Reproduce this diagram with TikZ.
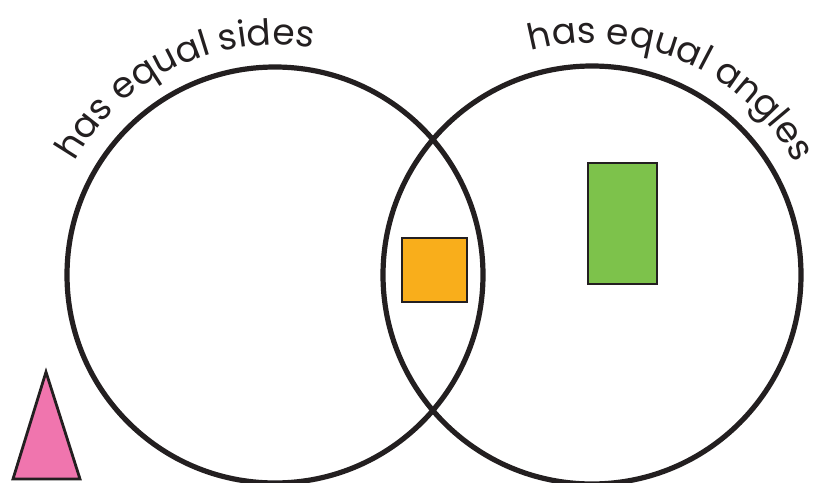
\documentclass[tikz,border=0pt]{standalone}
\usepackage{fontspec}
\setmainfont{Poppins}
\usetikzlibrary{decorations.text,calc}
\definecolor{ink}{HTML}{231F20}
\definecolor{orangef}{HTML}{F9AE1B}
\definecolor{greenf}{HTML}{7DC24B}
\definecolor{pinkf}{HTML}{F075AE}
\tikzset{
  ring/.style={draw=ink, line width=5.2pt},
  shapebox/.style={draw=ink, line width=2.8pt},
  arclabel/.style={decorate, decoration={text along path, text align=center, text color=ink}}
}
\begin{document}
\begin{tikzpicture}[x=1pt,y=1pt]
\useasboundingbox (0,0) rectangle (827,482);
\coordinate (cl) at (275,207);
\coordinate (cr) at (592,207);
\draw[ring] (cl) circle[radius=208];
\draw[ring] (cr) circle[radius=209];
\draw[shapebox, fill=orangef] (402,180) rectangle (467,244);
\draw[shapebox, fill=greenf] (588,198) rectangle (657,319);
\draw[shapebox, fill=pinkf, line join=miter] (46,110) -- (80,3) -- (13,3) -- cycle;
\path[arclabel, decoration={text={|\fontsize{36}{36}\selectfont|has equal sides}}]
  ($(cl)+(160:230)$) arc[start angle=160, end angle=71, radius=230];
\path[arclabel, decoration={text={|\fontsize{36}{36}\selectfont|has equal angles}}]
  ($(cr)+(113:232)$) arc[start angle=113, end angle=21, radius=232];
\end{tikzpicture}
\end{document}
